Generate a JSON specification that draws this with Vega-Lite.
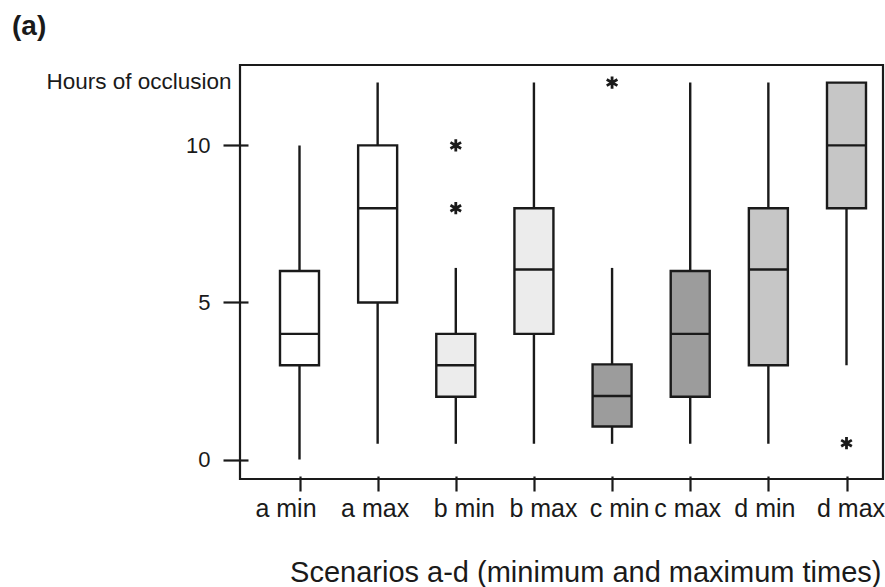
{
  "$schema": "https://vega.github.io/schema/vega-lite/v6.json",
  "autosize": {"type": "none"},
  "width": 643,
  "height": 414,
  "padding": {"left": 240, "top": 65, "right": 2, "bottom": 108},
  "background": "white",
  "config": {
    "font": "Liberation Sans",
    "view": {"stroke": "#1a1a1a", "strokeWidth": 2.2},
    "axis": {"grid": false, "domain": false, "tickColor": "#1a1a1a", "tickWidth": 2.2, "labelColor": "#1a1a1a", "titleColor": "#1a1a1a", "labelFont": "Liberation Sans", "titleFont": "Liberation Sans", "titleFontWeight": "normal"}
  },
  "title": {"text": "(a)", "anchor": "start", "frame": "group", "fontSize": 28, "fontWeight": "bold", "color": "#1a1a1a", "font": "Liberation Sans", "dx": -228, "dy": 28, "offset": 30, "baseline": "alphabetic"},
  "datasets": {
    "boxes": [
      {"scenario": "a min", "group": "a", "lower": 0, "q1": 3, "median": 4, "q3": 6, "upper": 10},
      {"scenario": "a max", "group": "a", "lower": 0.5, "q1": 5, "median": 8, "q3": 10, "upper": 12},
      {"scenario": "b min", "group": "b", "lower": 0.5, "q1": 2, "median": 3, "q3": 4, "upper": 6.1},
      {"scenario": "b max", "group": "b", "lower": 0.5, "q1": 4, "median": 6.05, "q3": 8, "upper": 12},
      {"scenario": "c min", "group": "c", "lower": 0.5, "q1": 1.05, "median": 2.02, "q3": 3.03, "upper": 6.1},
      {"scenario": "c max", "group": "c", "lower": 0.5, "q1": 2, "median": 4, "q3": 6, "upper": 12},
      {"scenario": "d min", "group": "d", "lower": 0.5, "q1": 3, "median": 6.05, "q3": 8, "upper": 12},
      {"scenario": "d max", "group": "d", "lower": 3, "q1": 8, "median": 10, "q3": 12, "upper": 12}
    ],
    "outliers": [
      {"scenario": "b min", "value": 10},
      {"scenario": "b min", "value": 8},
      {"scenario": "c min", "value": 12},
      {"scenario": "d max", "value": 0.52}
    ]
  },
  "encoding": {
    "x": {
      "field": "scenario", "type": "nominal", "sort": ["a min", "a max", "b min", "b max", "c min", "c max", "d min", "d max"],
      "scale": {"type": "point", "domain": ["a min", "a max", "b min", "b max", "c min", "c max", "d min", "d max"], "range": [59.5, 606.5], "padding": 0},
      "axis": {"title": "Scenarios a-d (minimum and maximum times)", "labelAngle": 0, "labelFontSize": 25, "offset": -3, "tickSize": 15, "labelBaseline": "alphabetic", "labelPadding": 25,
        "labelOffset": {"expr": "datum.label == 'a min' ? -14 : datum.label == 'a max' ? -3 : datum.label == 'b min' ? 8 : datum.label == 'b max' ? 9 : datum.label == 'c min' ? 7 : datum.label == 'c max' ? -3 : datum.label == 'd min' ? -4 : 4"},
        "titleFontSize": 29, "titleAnchor": "end", "titleBaseline": "alphabetic", "titleY": 105, "titleX": 641}
    }
  },
  "layer": [
    {
      "data": {"name": "boxes"},
      "mark": {"type": "rule", "stroke": "#1a1a1a", "strokeWidth": 2.4},
      "encoding": {
        "y": {"field": "lower", "type": "quantitative", "scale": {"domain": [-0.62, 12.56], "nice": false, "zero": false},
          "axis": {"title": "Hours of occlusion", "values": [0, 5, 10], "labelFontSize": 22, "offset": -8, "tickSize": 25, "labelPadding": 13, "titleFontSize": 22.5, "titleAngle": 0, "titleAlign": "right", "titleBaseline": "alphabetic", "titleX": -17, "titleY": 23}},
        "y2": {"field": "upper"}
      }
    },
    {
      "data": {"name": "boxes"},
      "mark": {"type": "bar", "size": 39, "stroke": "#1a1a1a", "strokeWidth": 2.4, "opacity": 1},
      "encoding": {
        "y": {"field": "q1", "type": "quantitative"},
        "y2": {"field": "q3"},
        "fill": {"field": "group", "type": "nominal", "scale": {"domain": ["a", "b", "c", "d"], "range": ["#ffffff", "#ececec", "#9c9c9c", "#c6c6c6"]}, "legend": null}
      }
    },
    {
      "data": {"name": "boxes"},
      "mark": {"type": "tick", "size": 39, "thickness": 2.4, "color": "#1a1a1a", "opacity": 1},
      "encoding": {
        "y": {"field": "median", "type": "quantitative"}
      }
    },
    {
      "data": {"name": "outliers"},
      "mark": {"type": "point", "shape": "M0,-1L0,1M-0.87,-0.5L0.87,0.5M-0.87,0.5L0.87,-0.5", "size": 150, "filled": false, "stroke": "#1a1a1a", "strokeWidth": 2.8, "opacity": 1},
      "encoding": {
        "y": {"field": "value", "type": "quantitative"}
      }
    }
  ]
}
